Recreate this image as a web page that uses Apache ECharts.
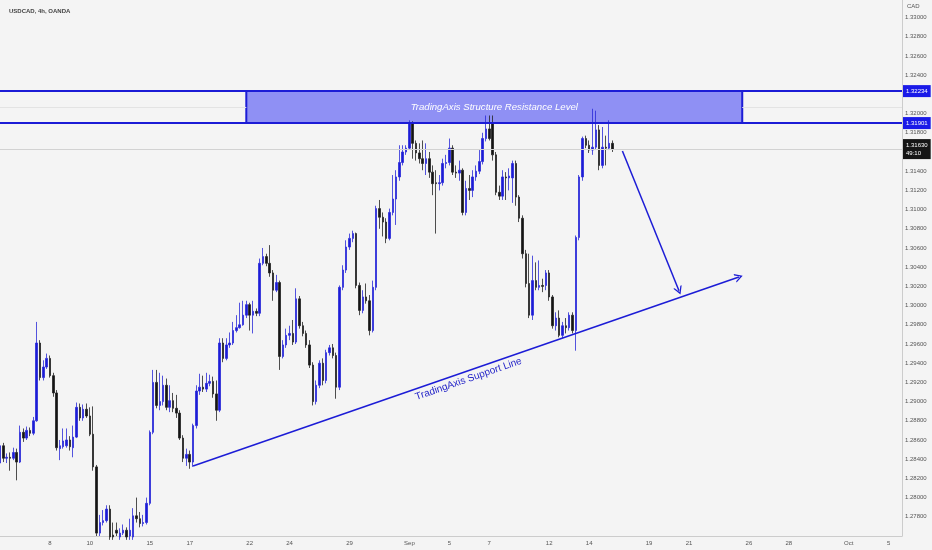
<!DOCTYPE html>
<html><head><meta charset="utf-8">
<script src="https://cdn.jsdelivr.net/npm/echarts@6/dist/echarts.min.js"></script>
<style>html,body{margin:0;padding:0;background:#f4f4f4}#c{width:932px;height:550px}</style>
</head><body><div id="c"></div><script>
// USDCAD 4h candles (open, close, low, high)
const opens=[
1.2836,1.2854,1.2841,1.2842,1.2841,1.2847,1.2837,1.2868,1.2862,1.2870,
1.2867,1.2880,1.2961,1.2925,1.2936,1.2945,1.2927,1.2909,1.2851,1.2853,
1.2854,1.2860,1.2852,1.2863,1.2894,1.2883,1.2892,1.2885,1.2866,1.2832,
1.2763,1.2774,1.2776,1.2788,1.2761,1.2766,1.2759,1.2763,1.2766,1.2760,
1.2759,1.2781,1.2778,1.2773,1.2774,1.2794,1.2868,1.2920,1.2896,1.2900,
1.2917,1.2894,1.2901,1.2893,1.2888,1.2862,1.2841,1.2845,1.2837,1.2875,
1.2911,1.2915,1.2913,1.2919,1.2921,1.2908,1.2891,1.2961,1.2945,1.2959,
1.2961,1.2974,1.2977,1.2980,1.2990,1.3001,1.2990,1.2994,1.2992,1.3044,
1.3051,1.3044,1.3034,1.3016,1.3024,1.2947,1.2959,1.2969,1.2971,1.2962,
1.3007,1.2979,1.2971,1.2959,1.2938,1.2900,1.2917,1.2940,1.2922,1.2951,
1.2956,1.2948,1.2915,1.3019,1.3037,1.3061,1.3070,1.3075,1.3021,1.2995,
1.3009,1.3005,1.2974,1.3019,1.3101,1.3092,1.3087,1.3070,1.3097,1.3111,
1.3134,1.3149,1.3160,1.3164,1.3190,1.3169,1.3159,1.3153,1.3148,1.3153,
1.3139,1.3128,1.3127,1.3128,1.3148,1.3149,1.3164,1.3139,1.3138,1.3141,
1.3097,1.3122,1.3120,1.3134,1.3140,1.3150,1.3174,1.3184,1.3190,1.3157,
1.3118,1.3114,1.3134,1.3133,1.3133,1.3148,1.3113,1.3091,1.3054,1.3023,
1.2990,1.3026,1.3019,1.3021,1.3021,1.3034,1.3009,1.2979,1.2987,1.2969,
1.2979,1.2977,1.2990,1.2974,1.3071,1.3134,1.3174,1.3167,1.3162,1.3165,
1.3183,1.3146,1.3165,1.3164,1.3169];
const closes=[
1.2854,1.2841,1.2842,1.2841,1.2847,1.2837,1.2868,1.2862,1.2870,1.2867,
1.2880,1.2961,1.2925,1.2936,1.2945,1.2927,1.2909,1.2852,1.2854,1.2859,
1.2860,1.2853,1.2863,1.2894,1.2883,1.2892,1.2885,1.2866,1.2832,1.2763,
1.2774,1.2776,1.2788,1.2759,1.2759,1.2763,1.2763,1.2766,1.2759,1.2766,
1.2781,1.2778,1.2773,1.2774,1.2794,1.2868,1.2920,1.2896,1.2900,1.2917,
1.2894,1.2901,1.2893,1.2888,1.2862,1.2841,1.2845,1.2837,1.2875,1.2911,
1.2915,1.2913,1.2919,1.2921,1.2908,1.2891,1.2961,1.2945,1.2959,1.2961,
1.2974,1.2977,1.2980,1.2990,1.3001,1.2990,1.2994,1.2992,1.3044,1.3051,
1.3044,1.3034,1.3016,1.3024,1.2947,1.2959,1.2969,1.2971,1.2962,1.3007,
1.2979,1.2971,1.2959,1.2938,1.2900,1.2917,1.2940,1.2922,1.2951,1.2956,
1.2948,1.2915,1.3019,1.3037,1.3061,1.3070,1.3075,1.3021,1.2995,1.3009,
1.3005,1.2974,1.3019,1.3101,1.3092,1.3087,1.3070,1.3097,1.3111,1.3134,
1.3149,1.3160,1.3164,1.3190,1.3169,1.3159,1.3153,1.3148,1.3153,1.3139,
1.3127,1.3127,1.3128,1.3148,1.3149,1.3164,1.3139,1.3138,1.3141,1.3097,
1.3122,1.3120,1.3134,1.3140,1.3150,1.3174,1.3184,1.3174,1.3157,1.3118,
1.3114,1.3134,1.3133,1.3135,1.3148,1.3113,1.3091,1.3054,1.3023,1.2990,
1.3026,1.3019,1.3021,1.3020,1.3034,1.3009,1.2979,1.2987,1.2969,1.2979,
1.2977,1.2990,1.2974,1.3071,1.3134,1.3174,1.3167,1.3162,1.3165,1.3183,
1.3146,1.3165,1.3164,1.3169,1.3163];
const lows=[
1.2830,1.2837,1.2836,1.2828,1.2839,1.2818,1.2836,1.2858,1.2860,1.2864,
1.2865,1.2879,1.2922,1.2922,1.2934,1.2925,1.2905,1.2849,1.2839,1.2851,
1.2852,1.2849,1.2842,1.2862,1.2880,1.2880,1.2883,1.2864,1.2828,1.2760,
1.2760,1.2771,1.2774,1.2756,1.2756,1.2760,1.2756,1.2761,1.2756,1.2756,
1.2756,1.2774,1.2769,1.2770,1.2772,1.2792,1.2866,1.2893,1.2891,1.2896,
1.2891,1.2889,1.2889,1.2883,1.2860,1.2837,1.2833,1.2830,1.2832,1.2872,
1.2907,1.2910,1.2910,1.2916,1.2904,1.2880,1.2889,1.2941,1.2943,1.2956,
1.2959,1.2972,1.2976,1.2979,1.2987,1.2974,1.2971,1.2989,1.2989,1.3042,
1.3041,1.3030,1.3005,1.3014,1.2933,1.2945,1.2956,1.2964,1.2959,1.2960,
1.2976,1.2968,1.2956,1.2935,1.2896,1.2897,1.2914,1.2917,1.2919,1.2948,
1.2945,1.2903,1.2912,1.3016,1.3034,1.3058,1.3066,1.3018,1.2990,1.2992,
1.3002,1.2969,1.2972,1.3016,1.3080,1.3072,1.3065,1.3068,1.3094,1.3084,
1.3130,1.3146,1.3157,1.3162,1.3153,1.3151,1.3148,1.3141,1.3136,1.3133,
1.3115,1.3075,1.3120,1.3125,1.3143,1.3146,1.3136,1.3133,1.3130,1.3094,
1.3094,1.3110,1.3113,1.3130,1.3137,1.3147,1.3171,1.3172,1.3151,1.3115,
1.3110,1.3110,1.3110,1.3120,1.3107,1.3104,1.3087,1.3049,1.3019,1.2987,
1.2985,1.3016,1.3016,1.3014,1.3016,1.3005,1.2976,1.2974,1.2967,1.2966,
1.2971,1.2974,1.2971,1.2953,1.3068,1.3130,1.3164,1.3159,1.3157,1.3162,
1.3141,1.3143,1.3146,1.3162,1.3160];
const highs=[
1.2860,1.2857,1.2846,1.2847,1.2852,1.2851,1.2875,1.2872,1.2874,1.2873,
1.2884,1.2983,1.2964,1.2943,1.2950,1.2948,1.2930,1.2912,1.2860,1.2872,
1.2872,1.2864,1.2875,1.2899,1.2898,1.2897,1.2898,1.2894,1.2895,1.2834,
1.2782,1.2787,1.2792,1.2792,1.2774,1.2774,1.2768,1.2772,1.2769,1.2778,
1.2789,1.2800,1.2785,1.2782,1.2800,1.2870,1.2933,1.2933,1.2930,1.2927,
1.2924,1.2917,1.2909,1.2907,1.2891,1.2865,1.2851,1.2849,1.2877,1.2917,
1.2929,1.2927,1.2930,1.2928,1.2926,1.2922,1.2966,1.2966,1.2966,1.2972,
1.2983,1.2990,1.3003,1.3005,1.3005,1.3003,1.3005,1.2997,1.3049,1.3060,
1.3054,1.3063,1.3037,1.3032,1.3026,1.2964,1.2976,1.2979,1.2985,1.3018,
1.3010,1.2983,1.2974,1.2964,1.2941,1.2922,1.2943,1.2945,1.2954,1.2959,
1.2960,1.2951,1.3021,1.3042,1.3068,1.3075,1.3078,1.3076,1.3024,1.3016,
1.3023,1.3011,1.3026,1.3104,1.3110,1.3097,1.3091,1.3101,1.3136,1.3141,
1.3167,1.3167,1.3167,1.3193,1.3192,1.3172,1.3169,1.3172,1.3169,1.3160,
1.3146,1.3141,1.3136,1.3153,1.3157,1.3174,1.3167,1.3146,1.3151,1.3143,
1.3130,1.3136,1.3141,1.3146,1.3162,1.3180,1.3198,1.3198,1.3198,1.3160,
1.3125,1.3141,1.3139,1.3143,1.3151,1.3151,1.3115,1.3094,1.3058,1.3054,
1.3052,1.3045,1.3047,1.3028,1.3037,1.3037,1.3011,1.2993,1.2995,1.2983,
1.2987,1.2993,1.2993,1.3073,1.3136,1.3176,1.3177,1.3172,1.3205,1.3203,
1.3188,1.3186,1.3177,1.3193,1.3172];

// time axis: trading-day index of labelled days (6 four-hour bars per day)
const tickLabels=['8','10','15','17','22','24','29','Sep','5','7','12','14','19','21','26','28','Oct','5'];
const tickDays=[3,5,8,10,13,15,18,21,23,25,28,30,33,35,38,40,43,45];

// drawn levels
const resistanceTop=1.32234, resistanceBottom=1.31901, lastPrice=1.31630;
const boxBars=[74,223];
const supportLine=[[58,1.28329],[222,1.30298]];
const projectionArrow=[[187,1.31610],[204,1.30155]];

const NCAT=272;
const LAST=NCAT-1;
const categories=[];
for(let k=0;k<NCAT;k++) categories.push(String(k));
const labelAt={};
tickDays.forEach((d,i)=>{labelAt[d*6-3]=tickLabels[i];});
const candles=opens.map((o,i)=>[o,closes[i],lows[i],highs[i]]);
const midLevel=(resistanceTop+resistanceBottom)/2;

const BLUE='#1c1cd6';
const chevron='path://M0,10 L5,0 L10,10 L8.4,10 L5,3.2 L1.6,10 Z';

function hline(v,style,label){
  return [{coord:[0,v],symbol:'none',lineStyle:style,label:label||{show:false}},{coord:[LAST,v],symbol:'none'}];
}
const priceTag=(txt,bg)=>({show:true,position:'end',distance:1,formatter:txt,backgroundColor:bg,color:'#fff',fontSize:6,lineHeight:8,padding:[2,3]});

const chart=echarts.init(document.getElementById('c'),null,{renderer:'canvas'});
chart.setOption({
  animation:false,
  backgroundColor:'#f4f4f4',
  textStyle:{fontFamily:'Liberation Sans'},
  title:{text:'USDCAD, 4h, OANDA',left:4,top:3,textStyle:{fontSize:6,fontWeight:'bold',color:'#444',fontFamily:'Liberation Sans'}},
  graphic:[{type:'text',left:907,top:3,style:{text:'CAD',fontSize:6,fill:'#555',fontFamily:'Liberation Sans'}}],
  grid:{left:0,right:30,top:0,bottom:14,containLabel:false,outerBoundsMode:'none'},
  xAxis:{type:'category',data:categories,boundaryGap:false,
    axisLine:{show:true,lineStyle:{color:'#cccccc'}},axisTick:{show:false},splitLine:{show:false},
    axisLabel:{interval:(idx)=>labelAt[idx]!==undefined,formatter:(v,idx)=>labelAt[idx]||'',fontSize:6,color:'#555',margin:4}},
  yAxis:{type:'value',position:'right',min:1.276,max:1.33183,interval:0.002,scale:true,
    axisLine:{show:true,lineStyle:{color:'#cccccc'}},axisTick:{show:false},splitLine:{show:false},
    axisLabel:{fontSize:6,color:'#555',margin:3,formatter:(v)=>{
      const r=v/0.002; if(Math.abs(r-Math.round(r))>1e-6) return '';
      if(Math.abs(v-1.276)<1e-6||Math.abs(v-1.322)<1e-6||Math.abs(v-1.316)<1e-6) return '';
      return v.toFixed(5);}}},
  series:[{
    type:'candlestick',data:candles,barWidth:2,clip:true,
    itemStyle:{color:BLUE,color0:'#141414',borderColor:'#2a2ad8',borderColor0:'#222',borderWidth:0.8},
    markArea:{silent:true,
      itemStyle:{color:'#8f90f4',borderColor:BLUE,borderWidth:2},
      label:{show:true,position:'inside',formatter:'TradingAxis Structure Resistance Level',color:'#ffffff',fontStyle:'italic',fontSize:9.6,fontFamily:'Liberation Sans'},
      data:[[{coord:[boxBars[0],resistanceTop]},{coord:[boxBars[1],resistanceBottom]}]]},
    markLine:{silent:true,symbol:['none','none'],symbolSize:9,
      data:[
        [{coord:[0,midLevel],symbol:'none',lineStyle:{color:'#e3e3e3',width:1,type:'solid'},label:{show:false}},{coord:[boxBars[0],midLevel],symbol:'none'}],
        [{coord:[boxBars[1],midLevel],symbol:'none',lineStyle:{color:'#e3e3e3',width:1,type:'solid'},label:{show:false}},{coord:[LAST,midLevel],symbol:'none'}],
        hline(lastPrice,{color:'#d2d2d2',width:1,type:'solid'},priceTag('1.31630\n49:10','#161616')),
        hline(resistanceTop,{color:BLUE,width:2,type:'solid'},priceTag('1.32234','#1a1ae8')),
        hline(resistanceBottom,{color:BLUE,width:2,type:'solid'},priceTag('1.31901','#1a1ae8')),
        [{coord:supportLine[0],symbol:'none',lineStyle:{color:BLUE,width:1.5,type:'solid'},
           label:{show:true,position:'insideMiddleBottom',distance:3,formatter:'TradingAxis Support Line',color:'#2424c8',fontSize:10,fontFamily:'Liberation Sans'}},
         {coord:supportLine[1],symbol:chevron,symbolSize:[9,8]}],
        [{coord:projectionArrow[0],symbol:'none',lineStyle:{color:BLUE,width:1.5,type:'solid'},label:{show:false}},
         {coord:projectionArrow[1],symbol:chevron,symbolSize:[9,8]}]
      ]}
  }]
});
</script></body></html>
